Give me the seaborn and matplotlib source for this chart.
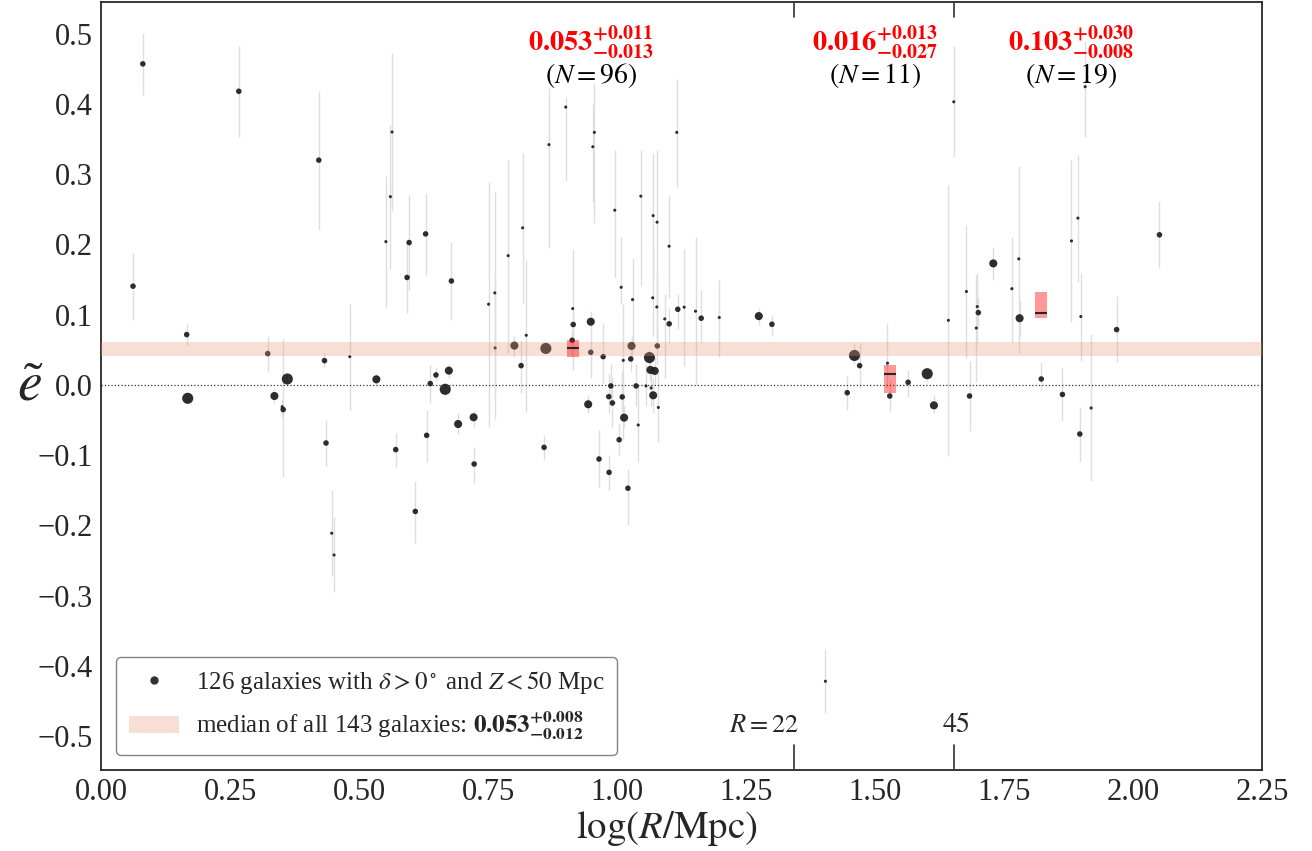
import numpy as np
import pandas as pd
import matplotlib
matplotlib.use("Agg")
import matplotlib.pyplot as plt
import seaborn as sns
from matplotlib.lines import Line2D
from matplotlib.patches import Patch

# ---------------- data ----------------
log_r = [
    0.062, 0.081, 0.166, 0.168, 0.267, 0.323, 0.336, 0.353, 0.351, 0.361,
    0.422, 0.433, 0.436, 0.447, 0.4516, 0.482, 0.5336, 0.552, 0.5607, 0.564,
    0.571, 0.593, 0.597, 0.609, 0.629, 0.631, 0.638, 0.649, 0.667, 0.674,
    0.679, 0.692, 0.722, 0.723, 0.751, 0.763, 0.7636, 0.789, 0.801, 0.814,
    0.817, 0.824, 0.8585, 0.862, 0.868, 0.9005, 0.914, 0.915, 0.913, 0.944,
    0.949, 0.949, 0.953, 0.956, 0.965, 0.973, 0.9845, 0.984, 0.988, 0.991,
    0.9955, 1.004, 1.008, 1.010, 1.012, 1.0136, 1.021, 1.0265, 1.028, 1.030,
    1.037, 1.041, 1.046, 1.056, 1.0627, 1.0646, 1.066, 1.069, 1.0698, 1.070,
    1.073, 1.0775, 1.077, 1.078, 1.080, 1.0924, 1.101, 1.1008, 1.1156, 1.1176,
    1.130, 1.152, 1.163, 1.198, 1.2746, 1.300,
    # 22 < R < 45 Mpc
    1.4037, 1.446, 1.460, 1.470, 1.524, 1.5284, 1.564, 1.601, 1.614, 1.642,
    1.6525,
    # R > 45 Mpc
    1.677, 1.683, 1.696, 1.698, 1.700, 1.729, 1.765, 1.7784, 1.780, 1.822,
    1.863, 1.8805, 1.893, 1.8967, 1.8986, 1.907, 1.9186, 1.968, 2.051,
]
e_tilde = [
    0.1406, 0.457, 0.0717, -0.019, 0.418, 0.0446, -0.0157, -0.035, -0.031, 0.0085,
    0.320, 0.0346, -0.0826, -0.211, -0.242, 0.0403, 0.008, 0.204, 0.268, 0.360,
    -0.092, 0.153, 0.2027, -0.180, 0.215, -0.0717, 0.002, 0.0142, -0.0062, 0.0204,
    0.148, -0.0556, -0.046, -0.1125, 0.115, 0.131, 0.0527, 0.184, 0.056, 0.0275,
    0.2236, 0.0707, -0.0888, 0.052, 0.342, 0.3955, 0.1087, 0.086, 0.0636, -0.0275,
    0.090, 0.0465, 0.339, 0.3595, -0.1054, 0.0403, -0.1244, -0.0166, -0.0014, -0.0256,
    0.2487, -0.078, 0.139, -0.017, 0.035, -0.0465, -0.147, 0.037, 0.0556, 0.1215,
    -0.0014, -0.057, 0.2687, -0.0014, 0.039, 0.0214, -0.0043, 0.124, 0.241, -0.0147,
    0.020, 0.2317, 0.111, 0.0556, -0.032, 0.094, 0.087, 0.1975, 0.3595, 0.1077,
    0.1107, 0.105, 0.095, 0.096, 0.098, 0.0864,
    -0.4217, -0.011, 0.042, 0.0275, 0.031, -0.0157, 0.0038, 0.016, -0.029, 0.092,
    0.403,
    0.133, -0.0157, 0.081, 0.1115, 0.103, 0.173, 0.137, 0.1795, 0.095, 0.0085,
    -0.0135, 0.205, 0.2375, -0.0698, 0.0974, 0.4245, -0.0328, 0.0788, 0.2137,
]
e_low = [
    0.092, 0.413, 0.056, -0.025, 0.353, 0.018, -0.025, -0.131, -0.045, 0.0,
    0.221, 0.025, -0.115, -0.272, -0.295, -0.036, 0.0, 0.110, 0.165, 0.248,
    -0.117, 0.103, 0.135, -0.225, 0.156, -0.109, -0.025, 0.005, -0.015, 0.01,
    0.093, -0.07, -0.06, -0.14, -0.060, -0.048, -0.015, 0.045, 0.04, -0.011,
    0.117, -0.038, -0.107, 0.045, 0.195, 0.29, 0.021, 0.07, 0.04, -0.04,
    0.075, 0.01, 0.26, 0.23, -0.145, 0.003, -0.15, -0.04, -0.03, -0.06,
    0.154, -0.10, 0.115, -0.05, -0.078, -0.06, -0.2, 0.02, 0.04, 0.06,
    -0.03, -0.11, 0.141, -0.03, 0.03, 0.005, -0.03, 0.07, 0.15, -0.04,
    0.0, 0.068, 0.05, 0.03, -0.081, 0.01, 0.06, 0.124, 0.282, 0.08,
    0.027, 0.0, 0.06, 0.04, 0.085, 0.07,
    -0.467, -0.036, 0.03, -0.004, -0.005, -0.038, -0.017, 0.005, -0.04, -0.101,
    0.325,
    0.038, -0.066, 0.004, 0.06, 0.08, 0.150, 0.061, 0.045, 0.07, -0.008,
    -0.052, 0.089, 0.147, -0.109, 0.034, 0.353, -0.137, 0.032, 0.167,
]
e_high = [
    0.188, 0.501, 0.087, -0.012, 0.483, 0.070, -0.005, 0.065, -0.02, 0.015,
    0.419, 0.045, -0.05, -0.15, -0.188, 0.115, 0.015, 0.298, 0.37, 0.473,
    -0.068, 0.204, 0.271, -0.137, 0.273, -0.036, 0.028, 0.025, 0.003, 0.03,
    0.203, -0.04, -0.035, -0.088, 0.289, 0.275, 0.154, 0.320, 0.07, 0.064,
    0.330, 0.178, -0.071, 0.06, 0.423, 0.41, 0.194, 0.10, 0.08, -0.015,
    0.105, 0.075, 0.40, 0.43, -0.064, 0.088, -0.10, 0.015, 0.03, 0.01,
    0.335, -0.055, 0.21, 0.02, 0.115, -0.03, -0.12, 0.055, 0.07, 0.18,
    0.03, -0.004, 0.335, 0.03, 0.05, 0.04, 0.02, 0.2, 0.33, 0.01,
    0.04, 0.335, 0.16, 0.08, 0.017, 0.13, 0.11, 0.27, 0.435, 0.13,
    0.194, 0.211, 0.135, 0.15, 0.11, 0.10,
    -0.376, 0.013, 0.06, 0.06, 0.088, 0.007, 0.021, 0.025, -0.015, 0.285,
    0.482,
    0.228, 0.034, 0.157, 0.16, 0.125, 0.197, 0.211, 0.312, 0.12, 0.032,
    0.024, 0.320, 0.328, -0.031, 0.160, 0.49, 0.073, 0.126, 0.262,
]
# relative marker-size class of each galaxy (1 = smallest, 4 = largest)
size_class = [
    2, 2, 2, 4, 2, 2, 3, 2, 1, 4,
    2, 2, 2, 1, 1, 1, 3, 1, 1, 1,
    2, 2, 2, 2, 2, 2, 2, 2, 4, 3,
    2, 3, 3, 2, 1, 1, 1, 1, 3, 2,
    1, 1, 2, 4, 1, 1, 1, 2, 2, 3,
    3, 2, 1, 1, 2, 2, 2, 2, 2, 2,
    1, 2, 1, 2, 1, 3, 2, 2, 3, 1,
    2, 1, 1, 1, 4, 3, 1, 1, 1, 3,
    3, 1, 1, 2, 1, 1, 2, 1, 1, 2,
    1, 1, 2, 1, 3, 2,
    1, 2, 4, 2, 1, 2, 2, 4, 3, 1,
    1,
    1, 2, 1, 1, 2, 3, 1, 1, 3, 2,
    2, 1, 1, 2, 1, 1, 1, 2, 2,
]

# group medians (R < 22, 22 < R < 45, R > 45 Mpc)
group_center = [0.9145, 1.529, 1.822]
group_median = [0.053, 0.016, 0.103]
group_plus = [0.011, 0.013, 0.030]
group_minus = [0.013, 0.027, 0.008]
group_n = [96, 11, 19]
group_label_x = [0.95, 1.50, 1.88]

all_median, all_plus, all_minus = 0.053, 0.008, 0.012
r_splits = [22, 45]

df = pd.DataFrame({"logR": log_r, "e": e_tilde, "lo": e_low, "hi": e_high,
                   "sz": size_class})

# ---------------- style ----------------
sns.set_style("white")
plt.rcParams["font.family"] = "serif"
plt.rcParams["font.serif"] = ["Liberation Serif", "DejaVu Serif"]
plt.rcParams["mathtext.fontset"] = "stix"
plt.rcParams["axes.unicode_minus"] = True

fig = plt.figure(figsize=(13.12, 8.51), dpi=100)
ax = fig.add_axes([0.077, 0.0952, 0.885, 0.9024])

# error bars
ax.vlines(df["logR"], df["lo"], df["hi"], color="0.87", lw=1.0, zorder=1)

# points
sns.scatterplot(data=df, x="logR", y="e", size="sz",
                sizes={1: 5, 2: 16, 3: 34, 4: 64}, color="#222222",
                edgecolor="none", linewidth=0, alpha=0.95, legend=False,
                ax=ax, zorder=2)

# zero line
ax.axhline(0, color="0.2", ls=":", lw=0.9, zorder=1.5)

# median band of all galaxies
ax.axhspan(all_median - all_minus, all_median + all_plus,
           color="darksalmon", alpha=0.3, lw=0, zorder=3)

# group medians
box_w = 0.023
for c, m, p, mi, n, lx in zip(group_center, group_median, group_plus,
                              group_minus, group_n, group_label_x):
    ax.bar(c, p + mi, bottom=m - mi, width=box_w, color="red", alpha=0.4,
           lw=0, zorder=4)
    ax.hlines(m, c - box_w / 2, c + box_w / 2, color="0.15", lw=1.5, zorder=5)
    ax.text(lx, 0.487, r"$\mathbf{%.3f^{+%.3f}_{-%.3f}}$" % (m, p, mi),
            color="red", fontsize=20.5, ha="center", va="center", zorder=6)
    ax.text(lx, 0.44, r"$(N = %d)$" % n, color="black", fontsize=20,
            ha="center", va="center", zorder=6)

# R split markers
for i, rv in enumerate(r_splits):
    xv = np.log10(rv)
    ax.axvline(xv, ymin=0, ymax=0.033, color="0.25", lw=1.3, zorder=5)
    ax.axvline(xv, ymin=0.98, ymax=1.0, color="0.25", lw=1.3, zorder=5)
    if i == 0:
        ax.text(xv + 0.01, -0.485, r"$R = %d$" % rv, fontsize=19,
                ha="right", va="center")
    else:
        ax.text(xv + 0.003, -0.485, r"$%d$" % rv, fontsize=20,
                ha="center", va="center")

ax.set_xlim(0, 2.25)
ax.set_ylim(-0.548, 0.545)
ax.set_xticks(np.arange(0, 2.26, 0.25))
ax.set_yticks(np.round(np.arange(-0.5, 0.51, 0.1), 1))
ax.tick_params(axis="both", labelsize=22, length=0, pad=6)
ax.set_xlabel(r"$\log(R/\mathrm{Mpc})$", fontsize=28)
ax.xaxis.set_label_coords(0.487, -0.076)
ax.xaxis.label.set_va("center")
ax.set_ylabel(r"$\tilde{e}$", fontsize=40, rotation=0, va="center",
              ha="center")
ax.yaxis.set_label_coords(-0.061, 0.5)

for s in ax.spines.values():
    s.set_color("0.15")
    s.set_linewidth(1.3)

handles = [
    Line2D([], [], marker="o", ls="none", color="#333333", markersize=5),
    Patch(facecolor="darksalmon", alpha=0.3, edgecolor="none"),
]
labels = [
    r"126 galaxies with $\delta > 0^\circ$ and $Z < 50$ Mpc",
    r"median of all 143 galaxies: $\mathbf{%.3f^{+%.3f}_{-%.3f}}$"
    % (all_median, all_plus, all_minus),
]
leg = ax.legend(handles, labels, loc="lower left", fontsize=18,
                frameon=True, fancybox=True, edgecolor="0.4",
                borderaxespad=0.6, handlelength=2.0, handletextpad=0.7,
                labelspacing=0.55, borderpad=0.5)
leg.get_frame().set_linewidth(1.0)

fig.savefig("out.png", dpi=100)
